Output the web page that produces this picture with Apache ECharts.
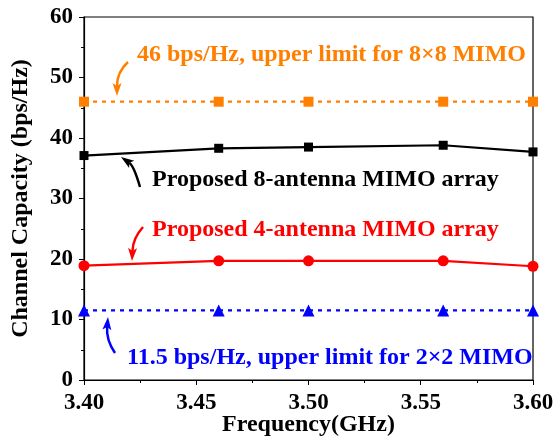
<!DOCTYPE html>
<html>
<head>
<meta charset="utf-8">
<script src="https://cdn.jsdelivr.net/npm/echarts@6/dist/echarts.min.js"></script>
<style>
  html, body { margin: 0; padding: 0; background: #fff; }
  #main { width: 554px; height: 440px; }
</style>
</head>
<body>
<div id="main"></div>
<script>
var freq = [3.40, 3.46, 3.50, 3.56, 3.60];
var upper8x8 = [46, 46, 46, 46, 46];
var proposed8 = [37.1, 38.3, 38.5, 38.8, 37.7];
var proposed4 = [18.9, 19.7, 19.7, 19.7, 18.8];
var upper2x2 = [11.5, 11.5, 11.5, 11.5, 11.5];

var xTicks = ['3.40', '3.45', '3.50', '3.55', '3.60'];

var FONT = '"Liberation Serif", "Times New Roman", serif';

function pairs(ys) {
    var out = [];
    for (var i = 0; i < freq.length; i++) out.push([freq[i], ys[i]]);
    return out;
}

// curved arrow: tail -> tip with one control point, filled head at tip
function arrow(tail, ctrl, tip, color) {
    var dx = tip[0] - ctrl[0], dy = tip[1] - ctrl[1];
    var len = Math.sqrt(dx * dx + dy * dy);
    var ux = dx / len, uy = dy / len;
    var hl = 13, hw = 4.5;
    var bx = tip[0] - ux * hl, by = tip[1] - uy * hl;
    var nx = bx + ux * 3, ny = by + uy * 3;
    return [{
        type: 'bezierCurve',
        shape: {
            x1: tail[0], y1: tail[1],
            x2: nx, y2: ny,
            cpx1: ctrl[0], cpy1: ctrl[1]
        },
        style: { stroke: color, lineWidth: 2.5, fill: null }
    }, {
        type: 'polygon',
        shape: {
            points: [
                tip,
                [bx - uy * hw, by + ux * hw],
                [nx, ny],
                [bx + uy * hw, by - ux * hw]
            ]
        },
        style: { fill: color }
    }];
}

function label(text, x, y, color) {
    return {
        type: 'text',
        left: x,
        top: y,
        style: {
            text: text,
            fill: color,
            font: 'bold 24px ' + FONT
        }
    };
}

var graphics = [].concat(
    [label('46 bps/Hz, upper limit for 8\u00d78 MIMO', 137, 43, '#FF7F00')],
    arrow([128, 62], [117, 72], [117, 96], '#FF7F00'),
    [label('Proposed 8-antenna MIMO array', 152, 168, '#000')],
    arrow([140, 187], [134, 166], [121, 157], '#000'),
    [label('Proposed 4-antenna MIMO array', 152, 218, '#FF0000')],
    arrow([143, 227], [133, 238], [132, 261], '#FF0000'),
    [label('11.5 bps/Hz, upper limit for 2\u00d72 MIMO', 127, 346, '#0000FF')],
    arrow([115, 353], [106, 340], [108, 317], '#0000FF')
);

var option = {
    backgroundColor: '#fff',
    animation: false,
    grid: {
        left: 84, right: 21, top: 17, bottom: 60,
        outerBoundsMode: 'none',
        show: true, borderColor: '#000', borderWidth: 1.2
    },
    xAxis: {
        type: 'value',
        min: 3.4, max: 3.6, interval: 0.05,
        name: 'Frequency(GHz)',
        nameLocation: 'middle',
        nameGap: 33,
        nameMoveOverlap: false,
        nameTextStyle: { fontFamily: FONT, fontWeight: 'bold', fontSize: 24, color: '#000', verticalAlign: 'top' },
        axisLine: { lineStyle: { color: '#000', width: 1.2 } },
        axisTick: { length: 5, lineStyle: { color: '#000' } },
        minorTick: { show: true, splitNumber: 2, length: 3, lineStyle: { color: '#000' } },
        splitLine: { show: false },
        axisLabel: {
            margin: 12,
            fontFamily: FONT, fontWeight: 'bold', fontSize: 23, color: '#000',
            formatter: function(v) {
                var i = Math.round((v - 3.4) / 0.05);
                return xTicks[i];
            }
        }
    },
    yAxis: {
        type: 'value',
        min: 0, max: 60, interval: 10,
        name: 'Channel Capacity (bps/Hz)',
        nameLocation: 'middle',
        nameGap: 51,
        nameMoveOverlap: false,
        nameTextStyle: { fontFamily: FONT, fontWeight: 'bold', fontSize: 24, color: '#000' },
        axisLine: { show: true, lineStyle: { color: '#000', width: 1.2 } },
        axisTick: { show: true, length: 5, lineStyle: { color: '#000' } },
        minorTick: { show: true, splitNumber: 2, length: 3, lineStyle: { color: '#000' } },
        splitLine: { show: false },
        axisLabel: {
            margin: 11,
            fontFamily: FONT, fontWeight: 'bold', fontSize: 23, color: '#000'
        }
    },
    series: [{
        name: '8x8 upper limit',
        type: 'line',
        data: pairs(upper8x8),
        symbol: 'rect', symbolSize: 10,
        lineStyle: { color: '#FF7F00', width: 2.2, type: [4, 5] },
        itemStyle: { color: '#FF7F00' }
    }, {
        name: 'Proposed 8-antenna',
        type: 'line',
        data: pairs(proposed8),
        symbol: 'rect', symbolSize: 9,
        lineStyle: { color: '#000', width: 2.2 },
        itemStyle: { color: '#000' }
    }, {
        name: 'Proposed 4-antenna',
        type: 'line',
        data: pairs(proposed4),
        symbol: 'circle', symbolSize: 11,
        lineStyle: { color: '#FF0000', width: 2.2 },
        itemStyle: { color: '#FF0000' }
    }, {
        name: '2x2 upper limit',
        type: 'line',
        data: pairs(upper2x2),
        symbol: 'triangle', symbolSize: 12,
        lineStyle: { color: '#0000FF', width: 2.2, type: [4, 5] },
        itemStyle: { color: '#0000FF' }
    }],
    graphic: graphics
};

var myChart = echarts.init(document.getElementById('main'));
myChart.setOption(option);
</script>
</body>
</html>
